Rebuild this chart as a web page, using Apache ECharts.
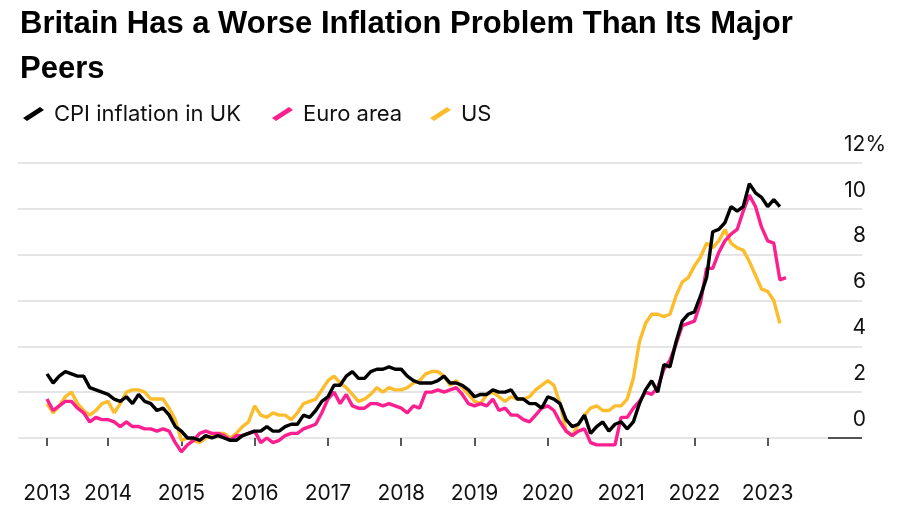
<!DOCTYPE html>
<html>
<head>
<meta charset="utf-8">
<script src="https://cdn.jsdelivr.net/npm/echarts@6/dist/echarts.min.js"></script>
<style>html,body{margin:0;padding:0;background:#fff}#c{width:900px;height:510px}</style>
</head>
<body>
<div id="c"></div>
<script>
// Monthly, Mar 2013 .. Apr 2023 (annual % change)
var startYear = 2013, startMonth = 3, monthCount = 122;
var ukCPI = [
  2.8, 2.4, 2.7, 2.9, 2.8, 2.7, 2.7, 2.2, 2.1, 2.0,
  1.9, 1.7, 1.6, 1.8, 1.5, 1.9, 1.6, 1.5, 1.2, 1.3, 1.0, 0.5,
  0.3, 0.0, 0.0, -0.1, 0.1, 0.0, 0.1, 0.0, -0.1, -0.1, 0.1, 0.2,
  0.3, 0.3, 0.5, 0.3, 0.3, 0.5, 0.6, 0.6, 1.0, 0.9, 1.2, 1.6,
  1.8, 2.3, 2.3, 2.7, 2.9, 2.6, 2.6, 2.9, 3.0, 3.0, 3.1, 3.0,
  3.0, 2.7, 2.5, 2.4, 2.4, 2.4, 2.5, 2.7, 2.4, 2.4, 2.3, 2.1,
  1.8, 1.9, 1.9, 2.1, 2.0, 2.0, 2.1, 1.7, 1.7, 1.5, 1.5, 1.3,
  1.8, 1.7, 1.5, 0.8, 0.5, 0.6, 1.0, 0.2, 0.5, 0.7, 0.3, 0.6,
  0.7, 0.4, 0.7, 1.5, 2.1, 2.5, 2.0, 3.2, 3.1, 4.2, 5.1, 5.4,
  5.5, 6.2, 7.0, 9.0, 9.1, 9.4, 10.1, 9.9, 10.1, 11.1, 10.7, 10.5,
  10.1, 10.4, 10.1
];
var euroArea = [
  1.7, 1.2, 1.4, 1.6, 1.6, 1.3, 1.1, 0.7, 0.9, 0.8,
  0.8, 0.7, 0.5, 0.7, 0.5, 0.5, 0.4, 0.4, 0.3, 0.4, 0.3, -0.2,
  -0.6, -0.3, -0.1, 0.2, 0.3, 0.2, 0.2, 0.1, -0.1, 0.1, 0.1, 0.2,
  0.3, -0.2, 0.0, -0.2, -0.1, 0.1, 0.2, 0.2, 0.4, 0.5, 0.6, 1.1,
  1.7, 2.0, 1.5, 1.9, 1.4, 1.3, 1.3, 1.5, 1.5, 1.4, 1.5, 1.4,
  1.3, 1.1, 1.4, 1.3, 2.0, 2.0, 2.1, 2.0, 2.1, 2.2, 1.9, 1.5,
  1.4, 1.5, 1.4, 1.7, 1.2, 1.3, 1.0, 1.0, 0.8, 0.7, 1.0, 1.3,
  1.4, 1.2, 0.7, 0.3, 0.1, 0.3, 0.4, -0.2, -0.3, -0.3, -0.3, -0.3,
  0.9, 0.9, 1.3, 1.6, 2.0, 1.9, 2.2, 3.0, 3.4, 4.1, 4.9, 5.0,
  5.1, 5.9, 7.4, 7.4, 8.1, 8.6, 8.9, 9.1, 9.9, 10.6, 10.1, 9.2,
  8.6, 8.5, 6.9, 7.0
];
var usCPI = [
  1.5, 1.1, 1.4, 1.8, 2.0, 1.5, 1.2, 1.0, 1.2, 1.5,
  1.6, 1.1, 1.5, 2.0, 2.1, 2.1, 2.0, 1.7, 1.7, 1.7, 1.3, 0.8,
  -0.1, 0.0, -0.1, -0.2, 0.0, 0.1, 0.2, 0.2, 0.0, 0.2, 0.5, 0.7,
  1.4, 1.0, 0.9, 1.1, 1.0, 1.0, 0.8, 1.1, 1.5, 1.6, 1.7, 2.1,
  2.5, 2.7, 2.4, 2.2, 1.9, 1.6, 1.7, 1.9, 2.2, 2.0, 2.2, 2.1,
  2.1, 2.2, 2.4, 2.5, 2.8, 2.9, 2.9, 2.7, 2.3, 2.5, 2.2, 1.9,
  1.6, 1.5, 1.9, 2.0, 1.8, 1.6, 1.8, 1.7, 1.7, 1.8, 2.1, 2.3,
  2.5, 2.3, 1.5, 0.3, 0.1, 0.6, 1.0, 1.3, 1.4, 1.2, 1.2, 1.4,
  1.4, 1.7, 2.6, 4.2, 5.0, 5.4, 5.4, 5.3, 5.4, 6.2, 6.8, 7.0,
  7.5, 7.9, 8.5, 8.3, 8.6, 9.1, 8.5, 8.3, 8.2, 7.7, 7.1, 6.5,
  6.4, 6.0, 5.0
];
var yTicks = [0, 2, 4, 6, 8, 10, 12];
var seriesNames = ['CPI inflation in UK', 'Euro area', 'US'];

var months = [];
(function () {
  var y = startYear, m = startMonth;
  for (var i = 0; i < monthCount; i++) {
    months.push(y + '-' + (m < 10 ? '0' + m : m));
    m++; if (m > 12) { m = 1; y++; }
  }
})();

var FONT = "Inter, 'Liberation Sans', Arial, sans-serif";
var C_UK = '#000000', C_EU = '#fb1f8f', C_US = '#fcbd2d';
var slash = 'path://M0,11 L17,0 L21,3 L4,14 Z';

var chart = echarts.init(document.getElementById('c'), null, {renderer: 'canvas'});
function isTick(idx, val) { return idx === 0 || val.slice(5) === '01'; }

function legendAt(name, left) {
  return {
    left: left, top: 98, data: [name],
    itemWidth: 21, itemHeight: 14, icon: slash,
    textStyle: {fontFamily: FONT, fontSize: 22, color: '#111', padding: [0, 0, 0, 5]}
  };
}

chart.setOption({
  animation: false,
  backgroundColor: '#ffffff',
  title: {
    text: 'Britain Has a Worse Inflation Problem Than Its Major\nPeers',
    left: 15, top: -3,
    textStyle: {fontFamily: "'Liberation Sans', Arial, sans-serif", fontWeight: 'bold', fontSize: 31, lineHeight: 45, color: '#000'}
  },
  legend: [
    legendAt(seriesNames[0], 18),
    legendAt(seriesNames[1], 267),
    legendAt(seriesNames[2], 425)
  ],
  grid: [
    {left: 47, right: 114, top: 163, bottom: 72},
    {left: 18, right: 38, top: 163, bottom: 72},
    {left: 828, right: 38, top: 163, bottom: 72}
  ],
  xAxis: [
    {
      type: 'category', gridIndex: 0, data: months, boundaryGap: false,
      offset: 23,
      axisLine: {show: false},
      axisTick: {show: true, length: 8, interval: isTick, lineStyle: {color: '#222', width: 1.5}},
      axisLabel: {interval: isTick, formatter: function (v) { return v.slice(0, 4); }, margin: 22,
        fontFamily: FONT, fontSize: 21, color: '#111'},
      splitLine: {show: false}
    },
    {type: 'value', gridIndex: 1, show: false},
    {type: 'value', gridIndex: 2, show: false}
  ],
  yAxis: [
    {type: 'value', gridIndex: 0, min: 0, max: 12, interval: 2, show: false},
    {
      type: 'value', gridIndex: 1, min: 0, max: 12, interval: 2, position: 'right',
      axisLine: {show: false}, axisTick: {show: false},
      splitLine: {show: true, lineStyle: {color: '#dcdcdc', width: 1.5}},
      axisLabel: {
        margin: 24, align: 'right', verticalAlign: 'bottom', padding: [0, 0, 8, 0],
        fontFamily: FONT, fontSize: 21, color: '#111',
        formatter: function (v) { return v === 12 ? '{n|12%}' : '{n|' + v + '}{s|}'; },
        rich: {
          n: {fontFamily: FONT, fontSize: 21, color: '#111'},
          s: {width: 20}
        }
      }
    },
    {
      type: 'value', gridIndex: 2, min: 0, max: 12, interval: 2,
      axisLine: {show: false}, axisTick: {show: false}, axisLabel: {show: false},
      splitLine: {show: true, lineStyle: {color: ['#222', 'rgba(0,0,0,0)', 'rgba(0,0,0,0)', 'rgba(0,0,0,0)', 'rgba(0,0,0,0)', 'rgba(0,0,0,0)', 'rgba(0,0,0,0)'], width: 1.5}}
    }
  ],
  series: [
    {name: 'US', type: 'line', data: usCPI, xAxisIndex: 0, yAxisIndex: 0, showSymbol: false, clip: false,
      lineStyle: {color: C_US, width: 3.4}, itemStyle: {color: C_US}, z: 2},
    {name: 'Euro area', type: 'line', data: euroArea, xAxisIndex: 0, yAxisIndex: 0, showSymbol: false, clip: false,
      lineStyle: {color: C_EU, width: 3.4}, itemStyle: {color: C_EU}, z: 3},
    {name: 'CPI inflation in UK', type: 'line', data: ukCPI, xAxisIndex: 0, yAxisIndex: 0, showSymbol: false, clip: false,
      lineStyle: {color: C_UK, width: 3.4}, itemStyle: {color: C_UK}, z: 4}
  ]
});
</script>
</body>
</html>
